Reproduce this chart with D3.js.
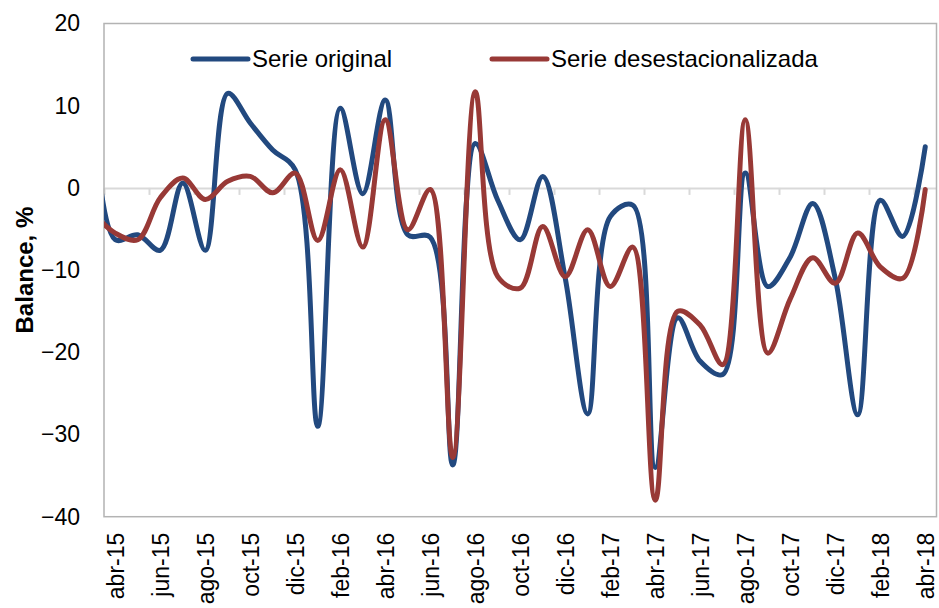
<!DOCTYPE html>
<html>
<head>
<meta charset="utf-8">
<script src="https://cdn.jsdelivr.net/npm/d3@7"></script>
<style>
  body { margin: 0; background: #fff; }
  svg { display: block; font-family: "Liberation Sans", Arial, sans-serif; }
</style>
</head>
<body>
<svg id="chart" width="939" height="608"></svg>
<script>
// months, first one (mar-15) sits just outside the plot and gets clipped
var months = ["mar-15", "abr-15", "may-15", "jun-15", "jul-15", "ago-15", "sep-15", "oct-15", "nov-15", "dic-15",
    "ene-16", "feb-16", "mar-16", "abr-16", "may-16", "jun-16", "jul-16", "ago-16", "sep-16", "oct-16", "nov-16", "dic-16",
    "ene-17", "feb-17", "mar-17", "abr-17", "may-17", "jun-17", "jul-17", "ago-17", "sep-17", "oct-17", "nov-17", "dic-17",
    "ene-18", "feb-18", "mar-18", "abr-18"];

var serieOriginal = [10, -6.3, -5.7, -7.6, 0.6, -7.6, 11.5, 7.9, 4.6, 2.2,
    -29, 9.7, -0.7, 10.7, -5.7, -6, -33.7, 5.4, -1.5, -6.3, 1.4, -11,
    -27.5, -3.5, -2.1, -34, -15.8, -21.1, -22.7, 1.8, -12, -8.4, -1.9, -11,
    -27.6, -1.5, -5.9, 5.0];

var serieDesest = [-3, -5.5, -6.3, -1.2, 1.2, -1.4, 0.8, 1.4, -0.6, 1.8,
    -6.4, 2.2, -7.2, 8.3, -5.1, -0.2, -32.8, 11.7, -10.8, -12.2, -4.7, -10.8,
    -5.1, -12, -7.2, -38, -15, -16.7, -21.5, 8.3, -20.1, -13.5, -8.5, -11.6,
    -5.5, -9.6, -11, -0.2];

var yTicks = [-40, -30, -20, -10, 0, 10, 20];

var seriesNames = ["Serie original", "Serie desestacionalizada"];
var seriesColors = ["#22497f", "#983936"];

var svg = d3.select("#chart");

var pLeft = 104, pRight = 936.5, pTop = 23.5, pBottom = 516.7;

var x = d3.scaleLinear().domain([0.5, months.length - 0.5]).range([pLeft, pRight]);
var y = d3.scaleLinear().domain([-40, 20]).range([pBottom, pTop]);

// clip for the lines
svg.append("clipPath").attr("id", "plotclip")
    .append("rect")
    .attr("x", pLeft).attr("y", pTop - 10)
    .attr("width", pRight - pLeft).attr("height", pBottom - pTop + 20);

// zero line with tick marks between every two months
var boundaries = d3.range(0.5, months.length, 2);
var zeroAxis = svg.append("g")
    .attr("transform", "translate(0," + y(0) + ")")
    .call(d3.axisBottom(x).tickValues(boundaries).tickFormat("").tickSize(7).tickSizeOuter(0));
zeroAxis.select(".domain").attr("stroke", "#d9d9d9").attr("stroke-width", 2);
zeroAxis.selectAll(".tick line").attr("stroke", "#d9d9d9").attr("stroke-width", 2);

// plot border
svg.append("rect")
    .attr("x", pLeft).attr("y", pTop)
    .attr("width", pRight - pLeft).attr("height", pBottom - pTop)
    .attr("fill", "none")
    .attr("stroke", "#b3b3b3")
    .attr("stroke-width", 1.5);

// y labels
var yAxis = svg.append("g")
    .attr("transform", "translate(" + pLeft + ",0)")
    .call(d3.axisLeft(y).tickValues(yTicks).tickSize(0).tickPadding(24));
yAxis.select(".domain").remove();
yAxis.selectAll("text")
    .attr("font-size", 23)
    .attr("font-family", "Liberation Sans, Arial, sans-serif")
    .attr("fill", "#000");

// x labels, rotated, every two months
var labelIdx = d3.range(1, months.length, 2);
var xAxis = svg.append("g")
    .attr("transform", "translate(0," + pBottom + ")")
    .call(d3.axisBottom(x).tickValues(labelIdx).tickFormat(function(i) { return months[i]; }).tickSize(0));
xAxis.select(".domain").remove();
xAxis.selectAll("text")
    .attr("font-size", 23)
    .attr("font-family", "Liberation Sans, Arial, sans-serif")
    .attr("fill", "#000")
    .attr("transform", "rotate(-90)")
    .attr("text-anchor", "end")
    .attr("x", -16)
    .attr("y", 0)
    .attr("dy", "0.35em");

// axis title
svg.append("text")
    .attr("transform", "translate(33," + ((pTop + pBottom) / 2) + ") rotate(-90)")
    .attr("text-anchor", "middle")
    .attr("font-size", 24)
    .attr("font-weight", "bold")
    .text("Balance, %");

// lines (centripetal catmull-rom, less overshoot than cardinal)
var line = d3.line()
    .x(function(d, i) { return x(i); })
    .y(function(d) { return y(d); })
    .curve(d3.curveCatmullRom.alpha(0.5));

var plot = svg.append("g").attr("clip-path", "url(#plotclip)");

[serieOriginal, serieDesest].forEach(function(s, k) {
    plot.append("path")
        .datum(s)
        .attr("d", line)
        .attr("fill", "none")
        .attr("stroke", seriesColors[k])
        .attr("stroke-width", 5)
        .attr("stroke-linejoin", "round")
        .attr("stroke-linecap", "round");
});

// legend
var legendX = [193, 492];
var legend = svg.append("g");
seriesNames.forEach(function(name, k) {
    legend.append("line")
        .attr("x1", legendX[k]).attr("x2", legendX[k] + 55)
        .attr("y1", 59).attr("y2", 59)
        .attr("stroke", seriesColors[k])
        .attr("stroke-width", 5)
        .attr("stroke-linecap", "round");
    legend.append("text")
        .attr("x", legendX[k] + 59)
        .attr("y", 67)
        .attr("font-size", 24)
        .attr("fill", "#000")
        .text(name);
});
</script>
</body>
</html>
